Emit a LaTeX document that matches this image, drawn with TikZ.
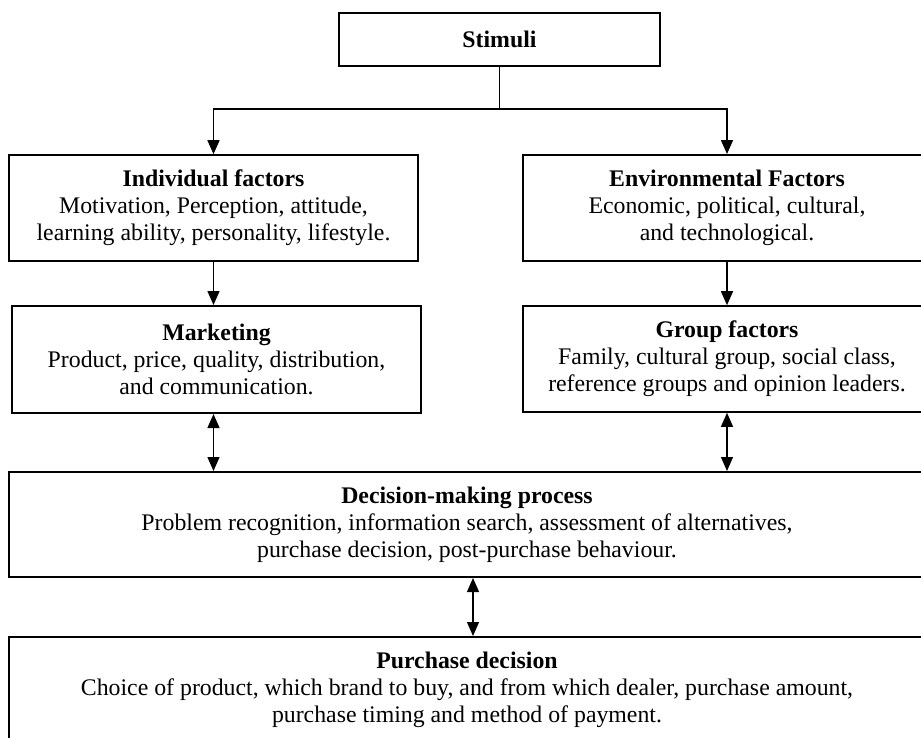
\documentclass[tikz,border=0pt]{standalone}
\usepackage{fontspec}
\setmainfont{Liberation Serif}
\usetikzlibrary{arrows.meta}
\begin{document}
\begin{tikzpicture}[x=1pt,y=-1pt,
  box/.style={draw, line width=1.6pt, inner sep=0pt, align=center,
    font=\fontsize{23.8}{27}\selectfont},
  conn/.style={line width=1.5pt},
  tip/.style={-{Triangle[length=14pt,width=12pt]}},
  dbl/.style={line width=1.2pt, {Triangle[length=14pt,width=12pt]}-{Triangle[length=14pt,width=12pt]}}]
\useasboundingbox (0,0) rectangle (921,737);
\node[box, minimum width=321pt, minimum height=53pt, line width=2pt] (stim) at (499.5,39.5) {\textbf{Stimuli}};
\node[box, minimum width=409pt, minimum height=106pt] (ind) at (213.5,208)
  {\textbf{Individual factors}\\Motivation, Perception, attitude,\\learning ability, personality, lifestyle.};
\node[box, minimum width=408pt, minimum height=106pt, line width=2pt] (env) at (727,208)
  {\textbf{Environmental Factors}\\Economic, political, cultural,\\and technological.};
\node[box, minimum width=409pt, minimum height=107pt, line width=2pt] (mkt) at (216.5,359.5)
  {\textbf{Marketing}\\Product, price, quality, distribution,\\and communication.};
\node[box, minimum width=408pt, minimum height=106pt] (grp) at (727,359)
  {\textbf{Group factors}\\Family, cultural group, social class,\\reference groups and opinion leaders.};
\node[box, minimum width=916pt, minimum height=105pt, line width=2pt] (dec) at (467,524.5)
  {\textbf{Decision-making process}\\Problem recognition, information search, assessment of alternatives,\\purchase decision, post-purchase behaviour.};
\node[box, minimum width=916pt, minimum height=106pt, line width=2pt] (pur) at (467,690)
  {\textbf{Purchase decision}\\Choice of product, which brand to buy, and from which dealer, purchase amount,\\purchase timing and method of payment.};
\coordinate (j) at (499.5,109);
\draw[conn] (stim.south) -- (j);
\draw[conn, tip] (j) -| (ind.north);
\draw[conn, tip] (j) -| (env.north);
\draw[conn, tip] (ind.south) -- (ind.south |- mkt.north);
\draw[conn, tip] (env.south) -- (grp.north);
\draw[dbl] (ind.south |- mkt.south) -- (ind.south |- dec.north);
\draw[dbl] (grp.south) -- (grp.south |- dec.north);
\draw[dbl] ([xshift=6pt]dec.south) -- ([xshift=6pt]dec.south |- pur.north);
\end{tikzpicture}
\end{document}
